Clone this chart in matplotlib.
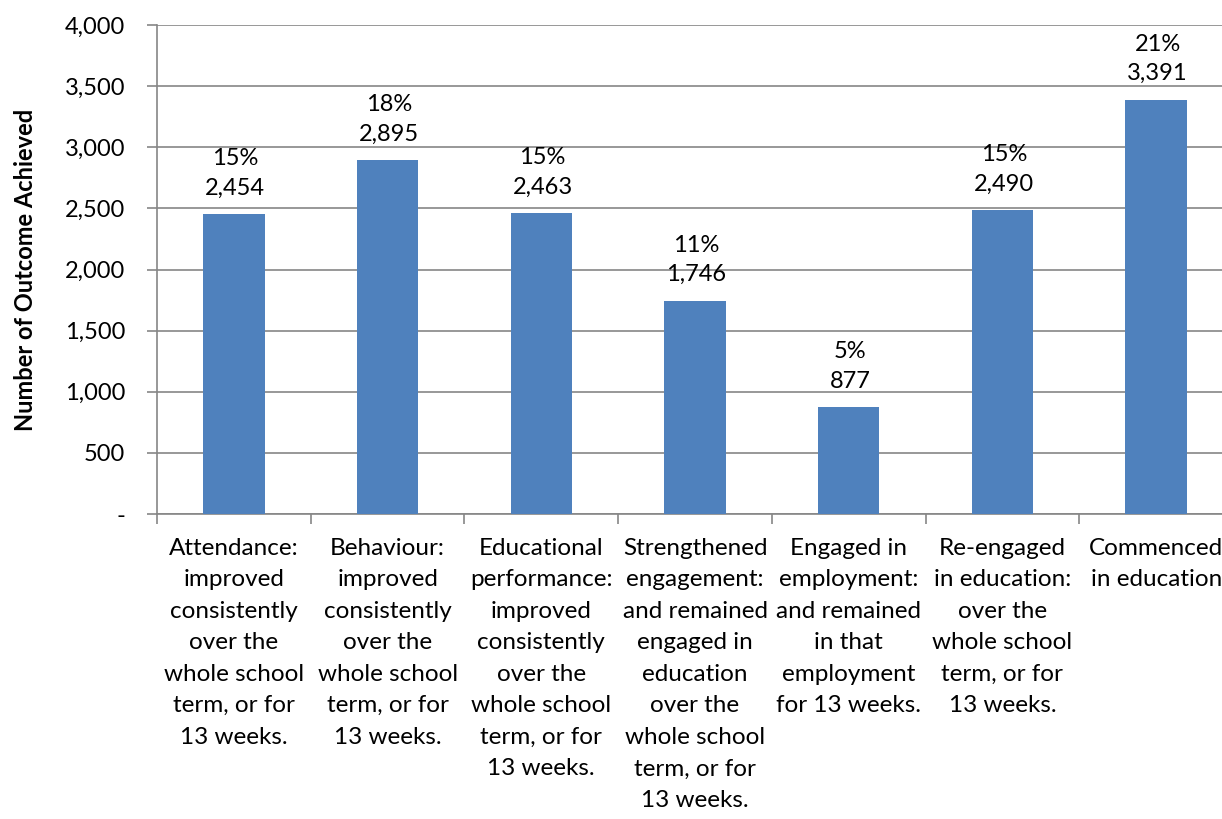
import matplotlib.pyplot as plt
from matplotlib.ticker import FuncFormatter

plt.rcParams['font.family'] = ['Lato', 'DejaVu Sans']

categories = [
    "Attendance:\nimproved\nconsistently\nover the\nwhole school\nterm, or for\n13 weeks.",
    "Behaviour:\nimproved\nconsistently\nover the\nwhole school\nterm, or for\n13 weeks.",
    "Educational\nperformance:\nimproved\nconsistently\nover the\nwhole school\nterm, or for\n13 weeks.",
    "Strengthened\nengagement:\nand remained\nengaged in\neducation\nover the\nwhole school\nterm, or for\n13 weeks.",
    "Engaged in\nemployment:\nand remained\nin that\nemployment\nfor 13 weeks.",
    "Re-engaged\nin education:\nover the\nwhole school\nterm, or for\n13 weeks.",
    "Commenced\nin education",
]
counts = [2454, 2895, 2463, 1746, 877, 2490, 3391]
percents = [15, 18, 15, 11, 5, 15, 21]

grid_color = "#868686"
bar_color = "#4F81BD"

fig = plt.figure(figsize=(12.22, 8.19), dpi=100)
ax = fig.add_axes([0.1285, 0.3724, 0.8805, 0.597])

x = range(len(counts))
ax.bar(x, counts, width=0.4, color=bar_color, zorder=3)

for i, (c, p) in enumerate(zip(counts, percents)):
    ax.annotate(f"{p}%\n{c:,}", (i, c), xytext=(1, 11), textcoords="offset points",
                ha="center", va="bottom", fontsize=17, linespacing=1.5)

ax.set_xlim(-0.5, len(counts) - 0.5)
ax.set_ylim(0, 4000)
ax.set_yticks(range(0, 4001, 500))
ax.yaxis.set_major_formatter(FuncFormatter(lambda v, _: "-" if v == 0 else f"{int(v):,}"))
ax.grid(axis="y", color=grid_color, linewidth=1.2, zorder=0)

ax.set_xticks([i - 0.5 for i in range(len(counts) + 1)])
ax.set_xticklabels([])
ax.set_xticks(list(x), minor=True)
ax.set_xticklabels(categories, minor=True, fontsize=17.5, linespacing=1.62, va="top")
ax.tick_params(axis="x", which="minor", length=0, pad=17)
ax.tick_params(axis="x", which="major", length=7, color=grid_color, width=1.2)
ax.tick_params(axis="y", length=7, color=grid_color, width=1.2, labelsize=17, pad=16)
for lbl in ax.get_yticklabels():
    lbl.set_horizontalalignment("right")

for s in ["top", "right"]:
    ax.spines[s].set_visible(False)
for s in ["left", "bottom"]:
    ax.spines[s].set_color(grid_color)
    ax.spines[s].set_linewidth(1.2)

ax.set_ylabel("Number of Outcome Achieved", fontsize=17, fontweight="bold", labelpad=20)

fig.savefig("out.png", dpi=100)
